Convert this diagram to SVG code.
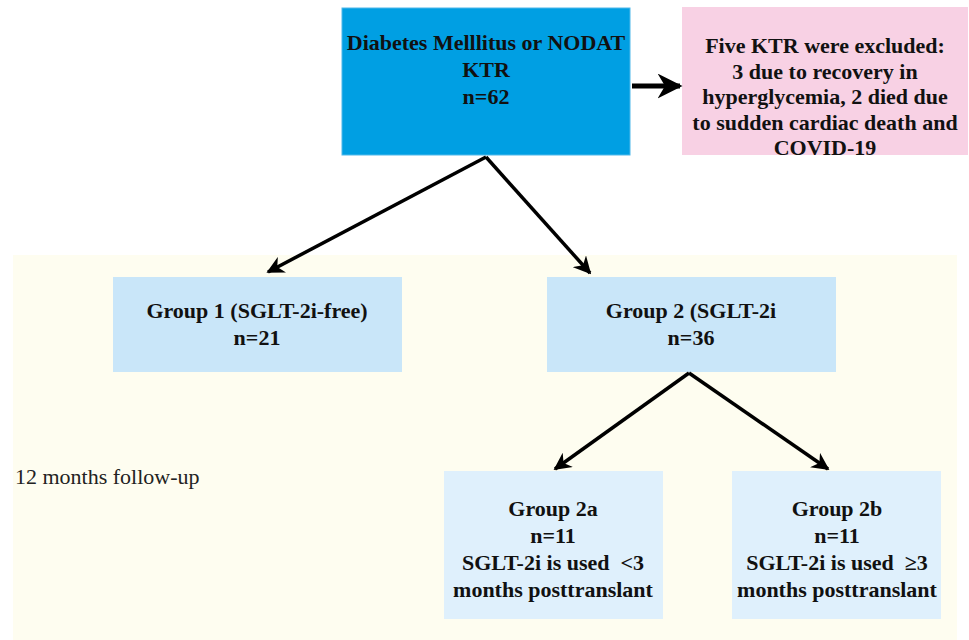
<svg xmlns="http://www.w3.org/2000/svg" width="969" height="640" viewBox="0 0 969 640">
<defs>
<style>
.t{font-family:"Liberation Serif","Times New Roman",serif;font-weight:bold;font-size:22px;fill:#111;text-anchor:middle;white-space:pre}
.r{font-family:"Liberation Serif","Times New Roman",serif;font-size:22px;fill:#222}
.c{stroke:#000;stroke-width:3.5;fill:none;marker-end:url(#ah)}
</style>
<marker id="ah" viewBox="0 0 10 10" refX="9" refY="5" markerWidth="5" markerHeight="5" orient="auto" markerUnits="strokeWidth">
<path d="M0,0 L10,5 L0,10 L3,5 Z" fill="#000"/>
</marker>
</defs>
<rect width="969" height="640" fill="#fff"/>
<rect x="13" y="255" width="944" height="385" fill="#fefdf0"/>
<text class="r" x="15" y="484">12 months follow-up</text>
<g id="top">
<rect x="342" y="8" width="288" height="147" fill="#009fe3" stroke="#4fb8ea" stroke-width="1"/>
<text class="t" x="486" y="50">Diabetes Melllitus or NODAT</text>
<text class="t" x="486" y="77">KTR</text>
<text class="t" x="486" y="104">n=62</text>
</g>
<g id="excluded">
<rect x="682" y="7" width="286" height="148" fill="#f8d1e4"/>
<text class="t" x="825" y="53">Five KTR were excluded:</text>
<text class="t" x="825" y="78.5">3 due to recovery in</text>
<text class="t" x="825" y="104">hyperglycemia, 2 died due</text>
<text class="t" x="825" y="129.5">to sudden cardiac death and</text>
<text class="t" x="825" y="155">COVID-19</text>
</g>
<g id="group1">
<rect x="113" y="277" width="289" height="95" fill="#c9e6f9"/>
<text class="t" x="257" y="318">Group 1 (SGLT-2i-free)</text>
<text class="t" x="257" y="345">n=21</text>
</g>
<g id="group2">
<rect x="547" y="277" width="289" height="95" fill="#c9e6f9"/>
<text class="t" x="691" y="318">Group 2 (SGLT-2i</text>
<text class="t" x="691" y="345">n=36</text>
</g>
<g id="group2a">
<rect x="444" y="471" width="219" height="148" fill="#dff0fc"/>
<text class="t" x="553" y="516">Group 2a</text>
<text class="t" x="553" y="543">n=11</text>
<text class="t" x="553" y="570">SGLT-2i is used  &lt;3</text>
<text class="t" x="553" y="597">months posttranslant</text>
</g>
<g id="group2b">
<rect x="732" y="471" width="209" height="148" fill="#dff0fc"/>
<text class="t" x="837" y="516">Group 2b</text>
<text class="t" x="837" y="543">n=11</text>
<text class="t" x="837" y="570">SGLT-2i is used  ≥3</text>
<text class="t" x="837" y="597">months posttranslant</text>
</g>
<g id="connectors">
<line class="c" x1="632" y1="86" x2="680" y2="86" style="stroke-width:5"/>
<line class="c" x1="486" y1="157" x2="268" y2="272"/>
<line class="c" x1="486" y1="157" x2="590" y2="273"/>
<line class="c" x1="689" y1="373" x2="555" y2="469"/>
<line class="c" x1="689" y1="373" x2="828" y2="469"/>
</g>
</svg>
